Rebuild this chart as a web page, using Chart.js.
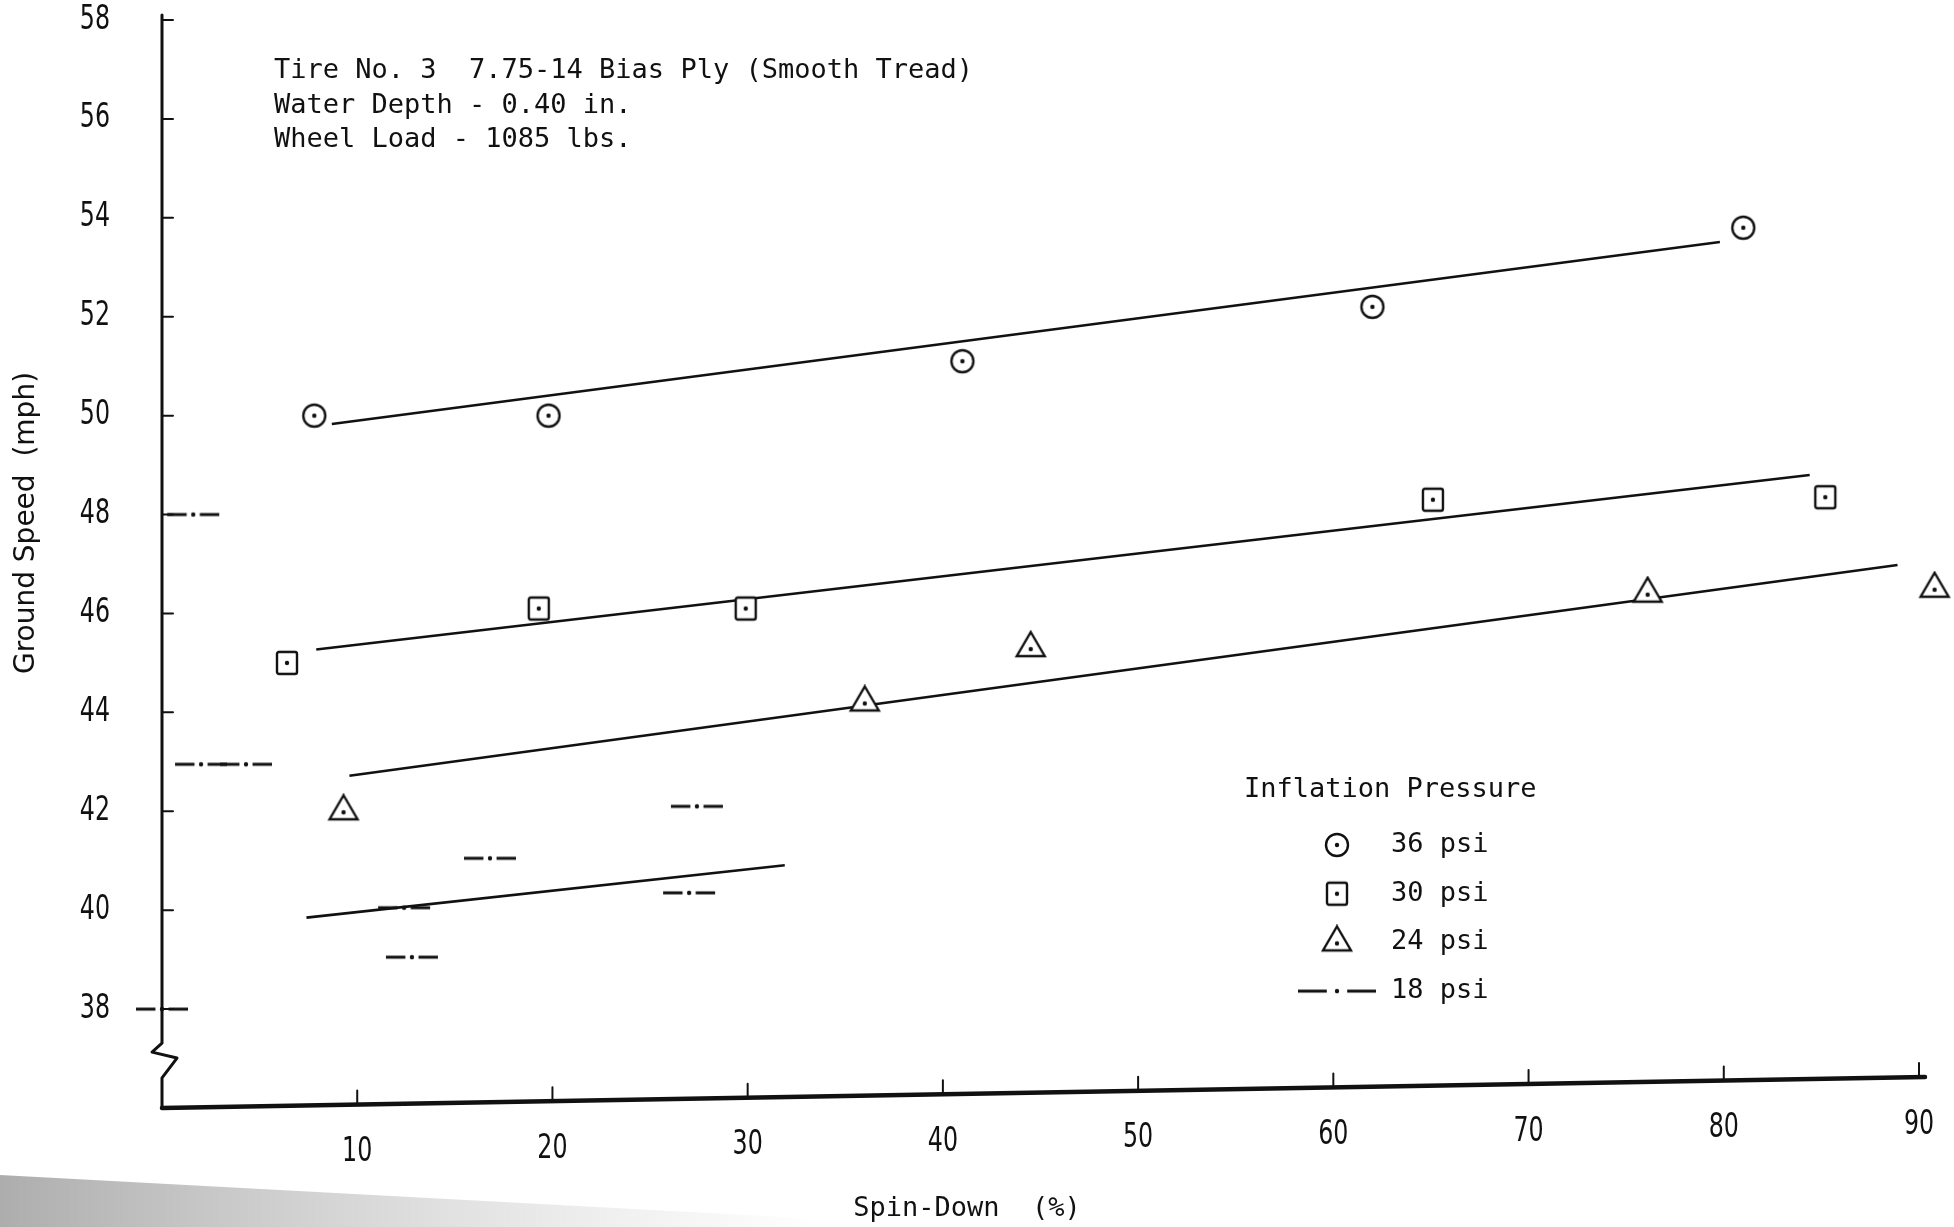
<!DOCTYPE html>
<html>
<head>
<meta charset="utf-8">
<title>Ground Speed vs Spin-Down</title>
<script src="https://cdn.jsdelivr.net/npm/chart.js@4.4.1/dist/chart.umd.min.js"></script>
<style>
  html, body { margin: 0; padding: 0; background: #fff; }
  #wrap { width: 1954px; height: 1227px; position: relative; }
</style>
</head>
<body>
<div id="wrap"><canvas id="spinDown"></canvas></div>
<script>
// readings per inflation pressure: spin-down (%) against ground speed (mph)
var pressures = ['36 psi', '30 psi', '24 psi', '18 psi'];

var spin36 = [7.8, 19.8, 41.0, 62.0, 81.0];
var speed36 = [50.0, 50.0, 51.1, 52.2, 53.8];

var spin30 = [6.4, 19.3, 29.9, 65.1, 85.2];
var speed30 = [45.0, 46.1, 46.1, 48.3, 48.35];

var spin24 = [9.3, 36.0, 44.5, 76.1, 90.8];
var speed24 = [42.0, 44.2, 45.3, 46.4, 46.5];

var spin18 = [0.0, 1.6, 2.0, 4.3, 12.4, 12.8, 16.8, 27.0, 27.4];
var speed18 = [38.0, 48.0, 42.95, 42.95, 40.05, 39.05, 41.05, 40.35, 42.1];

// faired lines, [spin, speed] at each end
var fair36 = [[8.7, 49.83], [79.8, 53.51]];
var fair30 = [[7.9, 45.27], [84.4, 48.8]];
var fair24 = [[9.6, 42.72], [88.9, 46.98]];
var fair18 = [[7.4, 39.85], [31.9, 40.91]];

var spinTicks = [10, 20, 30, 40, 50, 60, 70, 80, 90];
var speedTicks = [38, 40, 42, 44, 46, 48, 50, 52, 54, 56, 58];

var noteLines = [
  'Tire No. 3  7.75-14 Bias Ply (Smooth Tread)',
  'Water Depth - 0.40 in.',
  'Wheel Load - 1085 lbs.'
];
var legendTitle = 'Inflation Pressure';
var xTitle = 'Spin-Down  (%)';
var yTitle = 'Ground Speed  (mph)';

var ink = '#111';
var mono = '"DejaVu Sans Mono", monospace';
var digitFont = '33px "DejaVu Sans", sans-serif';
var digitSqueeze = 0.72;

// little canvases used as point styles (open symbol with a centre dot)
function symbol(w, h, draw) {
  var c = document.createElement('canvas');
  c.width = w;
  c.height = h;
  var g = c.getContext('2d');
  g.strokeStyle = ink;
  g.lineWidth = 2.4;
  draw(g, w / 2, h / 2);
  return c;
}
function centreDot(g, x, y) {
  g.fillStyle = ink;
  g.beginPath();
  g.arc(x, y, 2.2, 0, Math.PI * 2);
  g.fill();
}
function dashDot(w) {
  return symbol(w, 10, function (g, x, y) {
    var d = w * 0.36;
    g.lineWidth = 3;
    g.beginPath();
    g.moveTo(1, y); g.lineTo(1 + d, y);
    g.moveTo(w - 1 - d, y); g.lineTo(w - 1, y);
    g.stroke();
    centreDot(g, x, y);
  });
}

var circleMark = symbol(30, 30, function (g, x, y) {
  g.fillStyle = '#fff';
  g.beginPath();
  g.arc(x, y, 11, 0, Math.PI * 2);
  g.fill();
  g.stroke();
  centreDot(g, x, y);
});
var squareMark = symbol(28, 30, function (g, x, y) {
  g.fillStyle = '#fff';
  g.beginPath();
  g.roundRect(x - 10, y - 11, 20, 22, 2);
  g.fill();
  g.stroke();
  centreDot(g, x, y);
});
var triangleMark = symbol(36, 36, function (g, x, y) {
  g.fillStyle = '#fff';
  g.beginPath();
  g.moveTo(x, y - 16);
  g.lineTo(x + 14, y + 8);
  g.lineTo(x - 14, y + 8);
  g.closePath();
  g.fill();
  g.stroke();
  centreDot(g, x, y + 1);
});
var dashDotMark = dashDot(54);
var dashDotKey = dashDot(80);

function pairs(xs, ys) {
  return xs.map(function (x, i) { return { x: x, y: ys[i] }; });
}
function ends(line) {
  return line.map(function (p) { return { x: p[0], y: p[1] }; });
}

function markers(label, xs, ys, style, key) {
  return {
    label: label,
    data: pairs(xs, ys),
    showLine: false,
    pointStyle: style,
    pointRadius: 22,
    keyStyle: key || style,
    clip: false,
    order: 0
  };
}
function fairing(line) {
  return {
    label: '',
    data: ends(line),
    showLine: true,
    borderColor: ink,
    borderWidth: 2.6,
    pointRadius: 0,
    fill: false,
    clip: false,
    order: 1
  };
}

var datasets = [
  markers(pressures[0], spin36, speed36, circleMark),
  markers(pressures[1], spin30, speed30, squareMark),
  markers(pressures[2], spin24, speed24, triangleMark),
  markers(pressures[3], spin18, speed18, dashDotMark, dashDotKey),
  fairing(fair36),
  fairing(fair30),
  fairing(fair24),
  fairing(fair18)
];

// narrow typewriter-style numerals
function squeezedText(ctx, text, x, y, align) {
  ctx.save();
  ctx.translate(x, y);
  ctx.scale(digitSqueeze, 1);
  ctx.font = digitFont;
  ctx.textAlign = align;
  ctx.textBaseline = 'middle';
  ctx.fillText(text, 0, 0);
  ctx.restore();
}

// the hand-drawn axes: y with inward ticks and a break, x running slightly uphill
var axisTilt = 0.0176;

var paperAxes = {
  id: 'paperAxes',
  beforeDraw: function (chart) {
    // scanner shading along the lower left edge of the sheet
    var ctx = chart.ctx;
    var h = chart.height;
    var g = ctx.createLinearGradient(0, 0, 820, 0);
    g.addColorStop(0, 'rgba(60,60,60,0.42)');
    g.addColorStop(0.55, 'rgba(90,90,90,0.18)');
    g.addColorStop(1, 'rgba(120,120,120,0)');
    ctx.save();
    ctx.fillStyle = g;
    ctx.beginPath();
    ctx.moveTo(0, h - 52);
    ctx.lineTo(820, h - 8);
    ctx.lineTo(820, h);
    ctx.lineTo(0, h);
    ctx.closePath();
    ctx.fill();
    ctx.restore();
  },
  beforeDatasetsDraw: function (chart) {
    var ctx = chart.ctx;
    var xs = chart.scales.x, ys = chart.scales.y;
    var L = chart.chartArea.left, B = chart.chartArea.bottom;
    function baseY(px) { return B - (px - L) * axisTilt; }

    ctx.save();
    ctx.strokeStyle = ink;
    ctx.lineCap = 'round';
    ctx.lineJoin = 'round';

    // y axis with a break between 36 and 38
    ctx.lineWidth = 3;
    ctx.beginPath();
    ctx.moveTo(L, ys.getPixelForValue(58) - 5);
    ctx.lineTo(L, ys.getPixelForValue(37.31));
    ctx.lineTo(L - 10, ys.getPixelForValue(37.13));
    ctx.lineTo(L + 15, ys.getPixelForValue(37.01));
    ctx.lineTo(L, ys.getPixelForValue(36.61));
    ctx.lineTo(L, B);
    ctx.stroke();

    ctx.lineWidth = 2;
    ctx.beginPath();
    speedTicks.forEach(function (v) {
      var y = ys.getPixelForValue(v);
      ctx.moveTo(L, y);
      ctx.lineTo(L + 11, y);
    });
    ctx.stroke();

    // x axis
    var xEnd = xs.getPixelForValue(90) + 6;
    ctx.lineWidth = 4.5;
    ctx.beginPath();
    ctx.moveTo(L, baseY(L));
    ctx.lineTo(xEnd, baseY(xEnd));
    ctx.stroke();

    ctx.lineWidth = 2;
    ctx.beginPath();
    spinTicks.forEach(function (v) {
      var px = xs.getPixelForValue(v);
      ctx.moveTo(px, baseY(px));
      ctx.lineTo(px, baseY(px) - 14);
    });
    ctx.stroke();

    ctx.fillStyle = ink;
    spinTicks.forEach(function (v) {
      var px = xs.getPixelForValue(v);
      squeezedText(ctx, String(v), px, baseY(px) + 48, 'center');
    });
    speedTicks.forEach(function (v) {
      squeezedText(ctx, String(v), L - 52, ys.getPixelForValue(v), 'right');
    });
    ctx.restore();
  },
  afterDraw: function (chart) {
    var ctx = chart.ctx;
    ctx.save();
    ctx.fillStyle = ink;
    ctx.textBaseline = 'middle';

    // axis titles
    ctx.font = '27px ' + mono;
    ctx.textAlign = 'center';
    ctx.fillText(xTitle, 967, 1209);

    ctx.save();
    ctx.translate(27, 523);
    ctx.rotate(-Math.PI / 2);
    ctx.font = '28px "DejaVu Sans", sans-serif';
    ctx.fillText(yTitle, 0, 0);
    ctx.restore();

    // test conditions
    ctx.textAlign = 'left';
    ctx.font = '27px ' + mono;
    noteLines.forEach(function (t, i) {
      ctx.fillText(t, 274, 71 + i * 34.5);
    });

    // key
    ctx.fillText(legendTitle, 1244, 790);
    chart.data.datasets.forEach(function (ds, i) {
      if (!ds.label) return;
      var y = 845 + i * 48.7;
      var img = ds.keyStyle;
      ctx.drawImage(img, 1337 - img.width / 2, y - img.height / 2);
      ctx.fillText(ds.label, 1391, y);
    });
    ctx.restore();
  }
};

new Chart(document.getElementById('spinDown'), {
  type: 'scatter',
  data: { datasets: datasets },
  options: {
    responsive: true,
    maintainAspectRatio: false,
    animation: false,
    events: [],
    layout: { autoPadding: false, padding: { top: 20, right: 35, bottom: 119, left: 0 } },
    plugins: {
      legend: { display: false },
      tooltip: { enabled: false }
    },
    scales: {
      x: { type: 'linear', min: 0, max: 90, display: false },
      y: {
        type: 'linear',
        min: 36,
        max: 58,
        afterFit: function (s) {
          s.width = 162;
          s.paddingTop = 0;
          s.paddingBottom = 0;
        },
        grid: { display: false, drawTicks: false },
        border: { display: false },
        ticks: { display: false, stepSize: 2 }
      }
    }
  },
  plugins: [paperAxes]
});
</script>
</body>
</html>
